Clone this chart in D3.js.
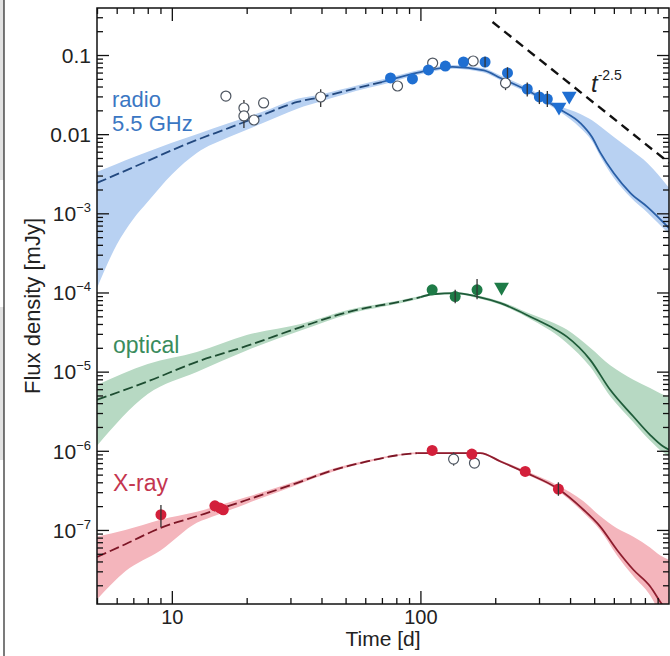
<!DOCTYPE html>
<html>
<head>
<meta charset="utf-8">
<script src="https://cdn.jsdelivr.net/npm/d3@7"></script>
<style>
  html, body { margin: 0; padding: 0; background: #fff; }
  svg { display: block; font-family: "Liberation Sans", Arial, Helvetica, sans-serif; }
</style>
</head>
<body>
<script>
// ---- model curves (time in days, flux density in mJy) ----
const radioT   = [5, 6, 7, 8, 10, 12.6, 17, 23, 32, 40, 55, 70, 100, 135, 180, 210, 277, 365, 440, 490, 530, 600, 700, 820, 1000];
const radioMid = [0.00242, 0.0031, 0.00382, 0.00459, 0.00627, 0.00845, 0.012, 0.0173, 0.0255, 0.0295, 0.038, 0.0456, 0.061, 0.071, 0.064, 0.0513, 0.0341, 0.0205, 0.0138, 0.0092, 0.0058, 0.0032, 0.0018, 0.0012, 0.00065];
const radioHi  = [0.00334, 0.0042, 0.0051, 0.006, 0.0078, 0.01, 0.0138, 0.019, 0.028, 0.032, 0.041, 0.049, 0.065, 0.075, 0.068, 0.055, 0.037, 0.0225, 0.018, 0.015, 0.0125, 0.0092, 0.0064, 0.0043, 0.0021];
const radioLo  = [0.000114, 0.0004, 0.00085, 0.0014, 0.0031, 0.0058, 0.0092, 0.0136, 0.021, 0.026, 0.035, 0.042, 0.057, 0.067, 0.06, 0.048, 0.032, 0.019, 0.012, 0.0082, 0.0052, 0.0028, 0.0016, 0.00102, 0.00055];

const optT   = [5, 8, 12.6, 20, 33, 52, 83, 100, 111.5, 140, 169, 210, 285, 333, 388, 482, 580, 719, 839, 949, 1000];
const optMid = [4.41e-6, 7.53e-6, 1.33e-5, 2.11e-5, 3.65e-5, 5.74e-5, 7.67e-5, 8.73e-5, 9.5e-5, 9.8e-5, 8.87e-5, 7.33e-5, 4.73e-5, 3.71e-5, 2.77e-5, 1.41e-5, 5.89e-6, 2.71e-6, 1.59e-6, 1.13e-6, 1.03e-6];
const optHi  = [6.8e-6, 1.25e-5, 1.77e-5, 2.9e-5, 4.0e-5, 6.1e-5, 8.0e-5, 9.0e-5, 9.8e-5, 1.01e-4, 9.2e-5, 7.7e-5, 5.2e-5, 4.3e-5, 3.4e-5, 2.0e-5, 1.2e-5, 7.9e-6, 6.2e-6, 5.1e-6, 4.8e-6];
const optLo  = [1.16e-6, 5.2e-6, 9.9e-6, 1.85e-5, 3.3e-5, 5.4e-5, 7.3e-5, 8.4e-5, 9.2e-5, 9.5e-5, 8.5e-5, 7.0e-5, 4.4e-5, 3.3e-5, 2.3e-5, 1.15e-5, 4.9e-6, 2.3e-6, 1.35e-6, 9.5e-7, 8.5e-7];

const xrayT   = [5, 6.5, 9, 12.6, 15.2, 20, 31.8, 45, 61, 83, 97, 130, 174, 210, 268, 354, 453, 528, 617, 719, 839, 920, 1000];
const xrayMid = [4.55e-8, 6.6e-8, 1.06e-7, 1.49e-7, 1.8e-7, 2.39e-7, 3.91e-7, 5.75e-7, 7.33e-7, 8.89e-7, 9.35e-7, 9.35e-7, 9.35e-7, 7.33e-7, 5.22e-7, 3.38e-7, 1.8e-7, 1.11e-7, 5.62e-8, 3.14e-8, 1.94e-8, 1.25e-8, 8.5e-9];
const xrayHi  = [8.28e-8, 1.0e-7, 1.35e-7, 1.7e-7, 2.0e-7, 2.6e-7, 4.15e-7, 6.0e-7, 7.6e-7, 9.1e-7, 9.6e-7, 9.6e-7, 9.6e-7, 7.6e-7, 5.5e-7, 3.7e-7, 2.3e-7, 1.5e-7, 1.05e-7, 8.2e-8, 6.0e-8, 4.8e-8, 4.2e-8];
const xrayLo  = [1.32e-8, 3.0e-8, 5.5e-8, 1.23e-7, 1.55e-7, 2.15e-7, 3.7e-7, 5.5e-7, 7.1e-7, 8.7e-7, 9.1e-7, 9.1e-7, 9.1e-7, 7.1e-7, 5.0e-7, 3.2e-7, 1.65e-7, 1.0e-7, 4.8e-8, 2.6e-8, 1.5e-8, 9e-9, 6e-9];

// ---- observations: [time, flux, errLo, errHi] ----
const radioFilled = [[75.8, 0.0513], [92.9, 0.0498], [107.7, 0.0647], [126, 0.0726], [149, 0.0816],
  [182, 0.0816, 0.07, 0.095], [224, 0.0593, 0.05, 0.07], [269, 0.0372, 0.03, 0.045], [301, 0.0295, 0.024, 0.036], [324, 0.0278, 0.022, 0.035]];
const radioOpen = [[16.5, 0.0303], [19.5, 0.0214, 0.012, 0.027], [19.5, 0.017], [21.4, 0.0151], [23.4, 0.0248],
  [39.7, 0.0295, 0.022, 0.037], [80.9, 0.0406], [112, 0.0792], [163, 0.084], [220, 0.0443, 0.036, 0.05]];
const radioLimits = [[361, 0.022], [397, 0.0303]];

const optFilled = [[111.5, 1.08e-4], [138, 8.87e-5, 7.3e-5, 1.08e-4], [169, 1.08e-4, 8.2e-5, 1.48e-4]];
const optLimits = [[212, 1.17e-4]];

const xrayFilled = [[9.04, 1.56e-7, 1.09e-7, 2.07e-7], [14.9, 2.02e-7], [15.6, 1.9e-7], [16.1, 1.8e-7],
  [111.5, 1.01e-6], [161, 9.08e-7], [264, 5.48e-7], [359, 3.28e-7, 2.7e-7, 4.0e-7]];
const xrayOpen = [[136, 7.85e-7, 6.5e-7, 9.5e-7], [165, 7.0e-7]];

// t^-2.5 guide
const guideT = [195, 1000];
const guideF = [0.261, 0.00436];

// ticks
const xMajor = [10, 100];
const yMajor = [1e-7, 1e-6, 1e-5, 1e-4, 1e-3, 0.01, 0.1];
const yLabels = ["10|−7", "10|−6", "10|−5", "10|−4", "10|−3", "0.01", "0.1"];

const width = 670, height = 656;
const svg = d3.select("body").append("svg")
    .attr("width", width)
    .attr("height", height);

const x = d3.scaleLog().domain([5, 1000]).range([97, 669]);
const y = d3.scaleLog().domain([1.16e-8, 0.3926]).range([604, 8]);

// neighbouring panel edge (cropped in the original figure)
svg.append("rect").attr("x", 0).attr("y", 0).attr("width", 4).attr("height", 180).attr("fill", "#e2e2e2");
svg.append("rect").attr("x", 0).attr("y", 307).attr("width", 4).attr("height", 153).attr("fill", "#e2e2e2");
svg.append("line").attr("x1", 4).attr("x2", 4).attr("y1", 0).attr("y2", height)
    .attr("stroke", "#222").attr("stroke-width", 1.2);

svg.append("clipPath").attr("id", "plot")
  .append("rect")
    .attr("x", x.range()[0]).attr("y", y.range()[1])
    .attr("width", x.range()[1] - x.range()[0])
    .attr("height", y.range()[0] - y.range()[1]);

const plot = svg.append("g").attr("clip-path", "url(#plot)");

const zip = (T, M, L, H) => T.map((t, i) => ({ t: t, m: M[i], lo: L[i], hi: H[i] }));

const series = [
  { model: zip(radioT, radioMid, radioLo, radioHi), split: 70, band: "#b8d1f2", line: "#2a5fa6", dash: "#23497f" },
  { model: zip(optT, optMid, optLo, optHi), split: 100, band: "#b7d9c3", line: "#1f5c3a", dash: "#1d4d31" },
  { model: zip(xrayT, xrayMid, xrayLo, xrayHi), split: 97, band: "#f4b5bc", line: "#8e1d2e", dash: "#7d1626" }
];

const area = d3.area()
    .x(d => x(d.t))
    .y0(d => y(d.lo))
    .y1(d => y(d.hi))
    .curve(d3.curveMonotoneX);

const line = d3.line()
    .x(d => x(d.t))
    .y(d => y(d.m))
    .curve(d3.curveMonotoneX);

series.forEach(s => {
  plot.append("path").datum(s.model).attr("d", area).attr("fill", s.band);
});
series.forEach(s => {
  plot.append("path").datum(s.model.filter(d => d.t <= s.split))
      .attr("d", line).attr("fill", "none")
      .attr("stroke", s.dash).attr("stroke-width", 1.8)
      .attr("stroke-dasharray", "10,4");
  plot.append("path").datum(s.model.filter(d => d.t >= s.split))
      .attr("d", line).attr("fill", "none")
      .attr("stroke", s.line).attr("stroke-width", 1.8);
});

// t^-2.5 guide line
plot.append("path")
    .datum(guideT.map((t, i) => [t, guideF[i]]))
    .attr("d", d3.line().x(d => x(d[0])).y(d => y(d[1])))
    .attr("fill", "none")
    .attr("stroke", "#111")
    .attr("stroke-width", 2.4)
    .attr("stroke-dasharray", "9,6");

// markers
function errorBars(data) {
  plot.selectAll(null).data(data.filter(d => d.length > 2)).join("line")
      .attr("x1", d => x(d[0])).attr("x2", d => x(d[0]))
      .attr("y1", d => y(d[2])).attr("y2", d => y(d[3]))
      .attr("stroke", "#333").attr("stroke-width", 1.3);
}
function filled(data, color) {
  plot.selectAll(null).data(data).join("circle")
      .attr("cx", d => x(d[0])).attr("cy", d => y(d[1]))
      .attr("r", 5.5).attr("fill", color);
  errorBars(data);
}
function open(data) {
  errorBars(data);
  plot.selectAll(null).data(data).join("circle")
      .attr("cx", d => x(d[0])).attr("cy", d => y(d[1]))
      .attr("r", 5).attr("fill", "#fff")
      .attr("stroke", "#4d5560").attr("stroke-width", 1.2);
}
function limits(data, color) {
  plot.selectAll(null).data(data).join("path")
      .attr("d", d3.symbol(d3.symbolTriangle, 95))
      .attr("transform", d => `translate(${x(d[0])},${y(d[1])}) rotate(180)`)
      .attr("fill", color);
}

open(radioOpen);
filled(radioFilled, "#1f6fd2");
limits(radioLimits, "#1f6fd2");
filled(optFilled, "#1e7b47");
limits(optLimits, "#1e7b47");
open(xrayOpen);
filled(xrayFilled, "#d3203b");

// axes
const xMinor = x.ticks().filter(v => !xMajor.includes(v) && v < 1000);
const yMinor = y.ticks().filter(v => !yMajor.some(m => Math.abs(m - v) / m < 1e-6) && v > 1.2e-8);

function styleAxis(g) {
  g.select(".domain").remove();
  g.selectAll(".tick line").attr("stroke", "#111").attr("stroke-width", 1.3);
  g.attr("font-family", null).attr("font-size", null);
}

// bottom
svg.append("g").attr("transform", "translate(0,604)")
    .call(d3.axisBottom(x).tickValues(xMajor).tickSize(-13).tickPadding(6).tickFormat(d3.format("d")))
    .call(styleAxis)
    .selectAll("text").attr("font-size", 20).attr("fill", "#222");
svg.append("g").attr("transform", "translate(0,604)")
    .call(d3.axisBottom(x).tickValues(xMinor).tickSize(-6).tickFormat(""))
    .call(styleAxis);
// top
svg.append("g").attr("transform", "translate(0,8)")
    .call(d3.axisTop(x).tickValues(xMajor).tickSize(-13).tickFormat(""))
    .call(styleAxis);
svg.append("g").attr("transform", "translate(0,8)")
    .call(d3.axisTop(x).tickValues(xMinor).tickSize(-6).tickFormat(""))
    .call(styleAxis);
// left
const left = svg.append("g").attr("transform", "translate(97,0)")
    .call(d3.axisLeft(y).tickValues(yMajor).tickSize(-12).tickPadding(6).tickFormat((d, i) => yLabels[i]))
    .call(styleAxis);
left.selectAll("text").each(function() {
  const parts = d3.select(this).text().split("|");
  const t = d3.select(this).text(null).attr("font-size", 21).attr("fill", "#222").attr("dy", "0.35em");
  t.append("tspan").text(parts[0]);
  if (parts[1]) t.append("tspan").attr("dy", -9).attr("font-size", 13).text(parts[1]);
});
svg.append("g").attr("transform", "translate(97,0)")
    .call(d3.axisLeft(y).tickValues(yMinor).tickSize(-6).tickFormat(""))
    .call(styleAxis);
// right
svg.append("g").attr("transform", "translate(669,0)")
    .call(d3.axisRight(y).tickValues(yMajor).tickSize(-12).tickFormat(""))
    .call(styleAxis);
svg.append("g").attr("transform", "translate(669,0)")
    .call(d3.axisRight(y).tickValues(yMinor).tickSize(-6).tickFormat(""))
    .call(styleAxis);

// frame
svg.append("rect")
    .attr("x", x.range()[0]).attr("y", y.range()[1])
    .attr("width", x.range()[1] - x.range()[0])
    .attr("height", y.range()[0] - y.range()[1])
    .attr("fill", "none").attr("stroke", "#111").attr("stroke-width", 1.5);

// axis titles
svg.append("text")
    .attr("x", 383).attr("y", 646)
    .attr("text-anchor", "middle").attr("font-size", 21).attr("fill", "#222")
    .text("Time [d]");
svg.append("text")
    .attr("transform", "translate(40,306) rotate(-90)")
    .attr("text-anchor", "middle").attr("font-size", 22).attr("fill", "#222")
    .text("Flux density [mJy]");

// series labels
svg.append("text").attr("x", 112).attr("y", 107).attr("font-size", 22).attr("fill", "#3b77c3").text("radio");
svg.append("text").attr("x", 112).attr("y", 131).attr("font-size", 22).attr("fill", "#3b77c3").text("5.5 GHz");
svg.append("text").attr("x", 113).attr("y", 353).attr("font-size", 23).attr("fill", "#3a8c5d").text("optical");
svg.append("text").attr("x", 113).attr("y", 491).attr("font-size", 23).attr("fill", "#c4364f").text("X-ray");

// power-law annotation
const ann = svg.append("text").attr("x", 591).attr("y", 92).attr("fill", "#222");
ann.append("tspan").attr("font-size", 24).attr("font-style", "italic").text("t");
ann.append("tspan").attr("dy", -12).attr("font-size", 14).text("-2.5");
</script>
</body>
</html>
